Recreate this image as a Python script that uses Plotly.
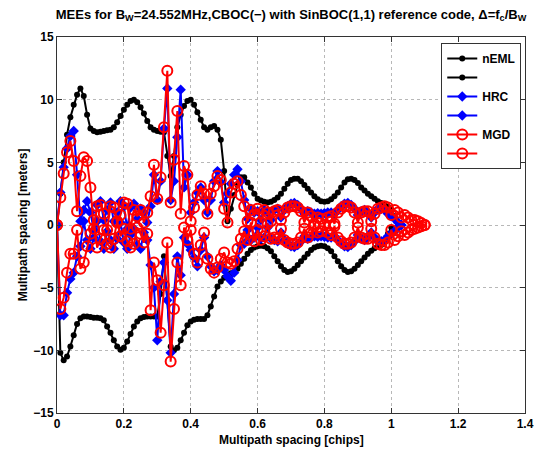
import plotly.graph_objects as go

# Multipath error envelopes, sampled every 0.01 chip of multipath spacing
STEP = 0.01

neml_up = [0.0, 2.5, 5.0, 7.2, 8.6, 9.6, 10.4, 10.9, 10.3, 8.8,
           7.7, 7.5, 7.4, 7.45, 7.5, 7.55, 7.6, 7.8, 8.2, 8.7,
           9.2, 9.6, 9.9, 10.0, 9.8, 9.4, 8.9, 8.3, 7.8, 7.6,
           7.5, 7.45, 7.4, 5.5, 3.9, 5.5, 7.8, 8.8, 9.5, 9.9,
           10.0, 9.6, 9.0, 8.4, 7.8, 7.6, 7.8, 7.9, 7.6, 6.8,
           4.3, 0.3, 1.3, 2.4, 3.2, 3.8, 3.8, 3.4, 3.0, 2.5,
           2.1, 1.95, 1.85, 1.8, 1.85, 2.0, 2.2, 2.5, 2.9, 3.3,
           3.6, 3.7, 3.7, 3.5, 3.2, 2.9, 2.6, 2.3, 2.05, 1.9,
           1.85, 1.9, 2.05, 2.3, 2.6, 3.0, 3.4, 3.65, 3.7, 3.6,
           3.35, 3.0, 2.75, 2.5, 2.3, 2.1, 1.9, 1.75, 1.6, 1.45,
           1.2, 0.7, 0.1]

neml_lo = [0.0, -10.2, -10.8, -10.5, -9.7, -8.8, -7.9, -7.45, -7.3, -7.3,
           -7.35, -7.4, -7.4, -7.45, -7.6, -8.1, -8.6, -9.2, -9.7, -9.95,
           -9.8, -9.3, -8.7, -8.1, -7.7, -7.45, -7.35, -7.3, -7.3, -7.3,
           -7.3, -5.5, -2.5, -6.0, -9.7, -10.0, -9.8, -9.2, -8.6, -8.0,
           -7.7, -7.55, -7.5, -7.5, -7.5, -7.2, -6.5, -5.7, -4.9, -4.5,
           -4.2, -4.0, -3.85, -3.75, -3.5, -3.1, -2.7, -2.3, -2.0, -1.8,
           -1.7, -1.65, -1.7, -1.85, -2.1, -2.5, -2.9, -3.3, -3.6, -3.75,
           -3.7, -3.5, -3.2, -2.9, -2.6, -2.3, -2.0, -1.8, -1.7, -1.65,
           -1.7, -1.85, -2.1, -2.5, -2.9, -3.3, -3.6, -3.75, -3.7, -3.5,
           -3.2, -2.9, -2.6, -2.3, -2.05, -1.85, -1.7, -1.6, -1.3, -0.7,
           -0.2]

hrc_up = [0.0, 2.6, 4.6, 6.1, 7.1, 7.5, 4.0, 0.3, 1.2, 1.9,
          1.0, -0.4, 1.6, 1.9, 0.4, 1.2, 1.8, 0.3, 1.0, 1.9,
          1.5, -0.3, 1.4, 1.7, 0.5, 1.3, 1.0, 0.2, 1.5, 4.0,
          2.0, 3.5, 7.7, 10.9, 2.0, 3.5, 7.0, 10.8, 3.0, 4.0,
          1.0, 1.8, 2.6, 3.0, 2.0, 1.0, 2.0, 3.5, 4.3, 3.4,
          1.8, 2.5, 3.3, 4.0, 4.45, 3.5, 2.0, 0.5, 1.3, 1.0,
          1.1, 0.4, 1.2, 1.0, 0.4, 1.2, 1.3, 0.6, 1.2, 1.5,
          1.7, 1.75, 1.6, 1.3, 0.9, 1.1, 1.0, 0.9, 0.95, 0.9,
          0.95, 1.0, 1.0, 0.9, 1.2, 1.5, 1.7, 1.75, 1.6, 1.3,
          0.8, 1.1, 1.2, 1.0, 0.6, 1.0, 1.3, 1.3, 1.2, 0.9,
          0.7, 0.5, 0.2, 0.0]

hrc_lo = [0.0, -7.2, -7.2, -5.4, -4.3, -3.8, -2.5, -1.7, 0.3, -1.2,
          -1.9, -1.0, 0.3, -1.3, -1.9, -0.5, -1.2, -1.9, -1.1, 0.2,
          -1.4, -1.9, -0.8, -0.3, -1.6, -1.9, -0.6, -1.2, -3.2, -5.0,
          -9.2, -4.5, -3.0, -6.0, -10.2, -5.5, -2.5, -4.0, -1.0, -1.5,
          -2.0, -2.6, -3.3, -2.0, -1.0, -2.5, -3.3, -3.7, -3.6, -3.2,
          -3.6, -4.1, -4.45, -3.8, -2.8, -1.6, -1.5, -0.4, -1.2, -1.0,
          -0.2, -1.1, -1.0, -0.2, -1.1, -1.2, -1.3, -0.6, -1.2, -1.5,
          -1.7, -1.75, -1.6, -1.3, -0.9, -1.1, -1.0, -0.9, -0.95, -0.9,
          -0.95, -1.0, -1.0, -0.9, -1.2, -1.5, -1.7, -1.75, -1.6, -1.3,
          -0.8, -1.1, -1.2, -1.0, -0.6, -1.0, -1.3, -1.3, -1.2, -0.9,
          -0.7, -0.5, -0.2, 0.0]

mgd_up = [0.0, 2.2, 4.1, 5.8, 6.7, 5.1, 1.1, 3.9, 5.4, 5.1,
          3.0, -0.3, 1.5, 1.6, 0.9, -0.4, 1.5, 1.4, 0.2, 0.8,
          1.8, 1.7, -0.3, 1.2, 0.7, 1.2, 0.2, 1.0, 2.3, 4.8,
          2.1, 3.8, 7.8, 12.3, 1.8, 5.2, 9.1, 0.9, 4.7, 4.0,
          0.3, 1.4, 2.4, 3.1, 2.5, 0.9, 2.5, 3.1, 3.9, 3.6,
          1.3, 0.2, 2.6, 3.3, 3.5, 2.4, 1.5, 0.3, 1.2, 0.8,
          1.3, 0.2, 1.2, 1.0, 0.3, 1.1, 1.2, 0.4, 1.0, 1.4,
          1.5, 1.5, 1.4, 1.1, 0.2, 1.0, 0.7, -0.1, 0.6, 0.5,
          0.0, 0.6, 0.7, 0.1, 1.0, 1.3, 1.5, 1.5, 1.4, 1.0,
          0.2, 1.0, 1.1, 1.1, 0.3, 0.9, 1.3, 1.4, 1.5, 1.4,
          0.8, 1.2, 1.0, 0.6, 0.8, 0.6, 0.4, 0.4, 0.3, 0.15,
          0.0]

mgd_lo = [0.0, -6.7, -5.8, -3.8, -2.3, -2.3, -0.4, -3.5, -3.0, -1.7,
          -0.7, 0.4, -1.8, -1.1, -0.4, -1.5, -1.8, -1.1, 0.3, -0.9,
          -0.3, -1.3, -1.8, -1.5, -0.2, -0.7, -1.4, -0.7, -6.8, -3.0,
          -4.4, -8.6, -4.8, -1.4, -10.9, -6.7, -3.0, -4.8, -0.2, -1.2,
          -0.4, -2.3, -3.0, -1.6, -0.6, -2.7, -3.5, -3.8, -3.4, -2.7,
          -2.2, -3.0, -3.1, -2.9, -1.9, -1.1, -0.5, -1.2, 0.2, -1.3,
          -0.4, -1.2, -0.9, 0.1, -1.1, -1.0, -1.1, -0.3, -1.2, -1.4,
          -1.5, -1.5, -1.4, -1.0, -0.3, -1.0, -0.6, 0.1, -0.6, -0.5,
          0.0, -0.6, -0.8, -0.1, -1.0, -1.3, -1.5, -1.5, -1.4, -1.0,
          -0.2, -1.0, -1.1, -1.1, -0.3, -1.0, -1.5, -1.6, -1.6, -1.4,
          -0.4, -1.2, -0.9, -0.5, -0.8, -0.6, -0.4, -0.3, -0.2, -0.1,
          0.0]

x_ticks = [0, 0.2, 0.4, 0.6, 0.8, 1, 1.2, 1.4]
x_tick_text = ["0", "0.2", "0.4", "0.6", "0.8", "1", "1.2", "1.4"]
y_ticks = [-15, -10, -5, 0, 5, 10, 15]
y_tick_text = ["\u221215", "\u221210", "\u22125", "0", "5", "10", "15"]


def grid(values):
    return [round(i * STEP, 2) for i in range(len(values))]


FONT = "Liberation Sans, Arial, Helvetica, sans-serif"
BLANK = "\u2007"  # unlabeled legend rows for the lower envelopes

fig = go.Figure()

red_marker = dict(symbol="circle-open", size=10, color="#ff0000",
                  line=dict(width=2, color="#ff0000"))
series = [
    ("nEML", neml_up, "black", dict(symbol="circle", size=6, color="black")),
    (BLANK, neml_lo, "black", dict(symbol="circle", size=6, color="black")),
    ("HRC", hrc_up, "#0000ff", dict(symbol="diamond", size=8, color="#0000ff")),
    (BLANK, hrc_lo, "#0000ff", dict(symbol="diamond", size=8, color="#0000ff")),
    ("MGD", mgd_up, "#ff0000", red_marker),
    (BLANK, mgd_lo, "#ff0000", red_marker),
]

for name, ys, col, mk in series:
    fig.add_trace(go.Scatter(
        x=grid(ys), y=ys, name=name, mode="lines+markers",
        line=dict(color=col, width=2), marker=mk, showlegend=True,
    ))

axis_common = dict(
    showgrid=True, gridcolor="#b8b8b8", griddash="dot", gridwidth=1,
    zeroline=False, showline=True, linecolor="#333333", linewidth=1,
    mirror="ticks", ticks="inside", ticklen=5, tickcolor="#333333",
    tickfont=dict(family=FONT, size=12, color="black", weight="bold"),
)

fig.update_layout(
    width=546, height=452,
    margin=dict(l=57, r=12, t=37, b=39),
    paper_bgcolor="white", plot_bgcolor="white",
    font=dict(family=FONT, size=12, color="black"),
    title=dict(
        text="<b>MEEs for B<sub>W</sub>=24.552MHz,CBOC(\u2212) with SinBOC(1,1) "
             "reference code, \u0394=f<sub>c</sub>/B<sub>W</sub></b>",
        x=0.5, xref="paper", y=1 - 14 / 452, yref="container",
        xanchor="center", yanchor="middle",
        font=dict(family=FONT, size=13, color="black"),
    ),
    xaxis=dict(range=[0, 1.4], tickvals=x_ticks, ticktext=x_tick_text, **axis_common),
    yaxis=dict(range=[-15, 15], tickvals=y_ticks, ticktext=y_tick_text, **axis_common),
    legend=dict(
        x=0.992, y=0.984, xanchor="right", yanchor="top",
        bgcolor="white", bordercolor="#333333", borderwidth=1,
        font=dict(family=FONT, size=12, color="black", weight="bold"),
        itemwidth=30, tracegroupgap=0,
    ),
    showlegend=True,
    annotations=[
        dict(text="<b>Multipath spacing [chips]</b>", xref="paper", yref="paper",
             x=0.5, y=-0.072, xanchor="center", yanchor="middle", showarrow=False,
             font=dict(family=FONT, size=12, color="black")),
        dict(text="<b>Multipath spacing [meters]</b>", xref="paper", yref="paper",
             x=-0.072, y=0.5, xanchor="center", yanchor="middle", showarrow=False,
             textangle=-90, font=dict(family=FONT, size=12, color="black")),
    ],
)

fig.write_html("out.html")
